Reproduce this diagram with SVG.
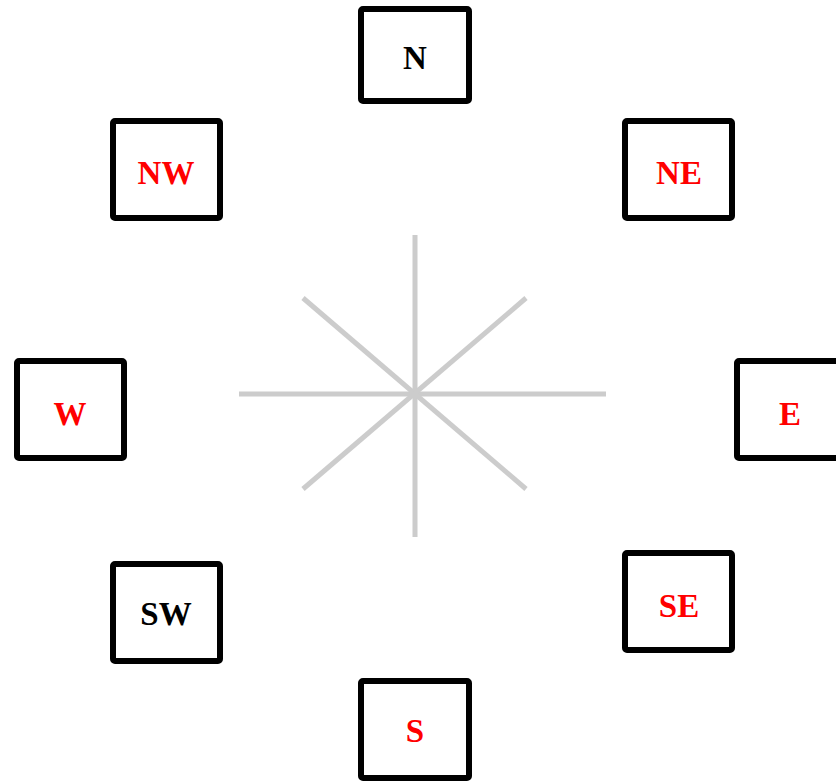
<svg xmlns="http://www.w3.org/2000/svg" width="836" height="781" viewBox="0 0 836 781">
<style>
.box{fill:#fff;stroke:#000;stroke-width:6;}
.lbl{font-family:"Liberation Serif","Times New Roman",serif;font-size:33px;font-weight:bold;text-anchor:middle;}
.red{fill:#ff0000;}
.blk{fill:#000;}
.ray{stroke:#cccccc;stroke-width:5;}
</style>
<rect width="836" height="781" fill="#fff"/>
<g id="connectors">
<line class="ray" x1="415" y1="235" x2="415" y2="537"/>
<line class="ray" x1="239" y1="394" x2="606" y2="394"/>
<line class="ray" x1="303" y1="298" x2="526" y2="489"/>
<line class="ray" x1="526" y1="298" x2="303" y2="489"/>
</g>
<g id="N"><rect class="box" x="361" y="9" width="108" height="92" rx="2"/><text class="lbl blk" x="415" y="69">N</text></g>
<g id="NW"><rect class="box" x="113" y="121" width="107" height="97" rx="2"/><text class="lbl red" x="166" y="184">NW</text></g>
<g id="NE"><rect class="box" x="625" y="121" width="107" height="97" rx="2"/><text class="lbl red" x="679" y="184">NE</text></g>
<g id="W"><rect class="box" x="17" y="361" width="107" height="97" rx="2"/><text class="lbl red" x="70" y="425">W</text></g>
<g id="E"><rect class="box" x="737" y="361" width="107" height="97" rx="2"/><text class="lbl red" x="790" y="425">E</text></g>
<g id="SW"><rect class="box" x="113" y="564" width="107" height="97" rx="2"/><text class="lbl blk" x="166" y="625">SW</text></g>
<g id="SE"><rect class="box" x="625" y="553" width="107" height="97" rx="2"/><text class="lbl red" x="679" y="617">SE</text></g>
<g id="S"><rect class="box" x="361" y="681" width="108" height="97" rx="2"/><text class="lbl red" x="415" y="742">S</text></g>
</svg>
